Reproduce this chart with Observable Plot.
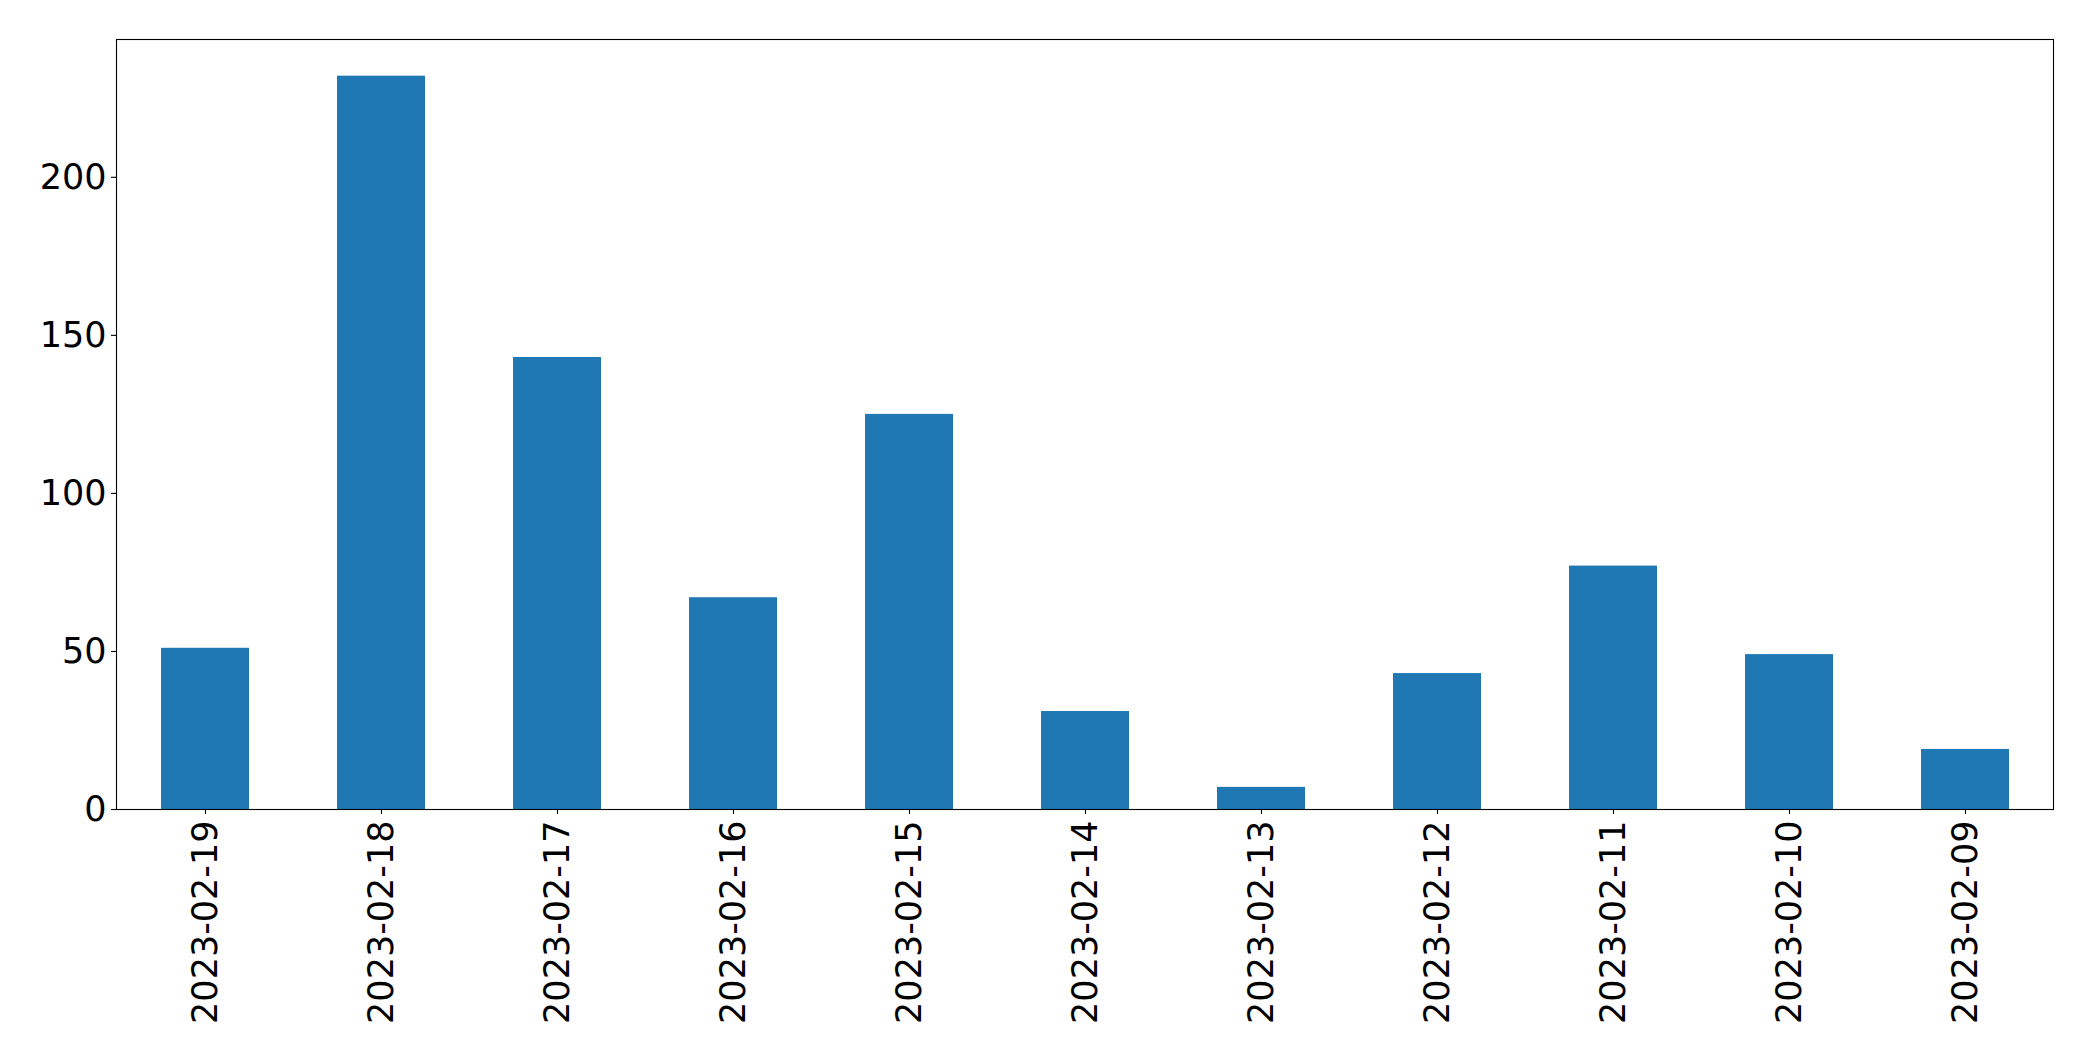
<!DOCTYPE html>
<html>
<head>
<meta charset="utf-8">
<script src="https://cdn.jsdelivr.net/npm/d3@7"></script>
<script src="https://cdn.jsdelivr.net/npm/@observablehq/plot@0.6"></script>
<style>
  html, body { margin: 0; padding: 0; background: #fff; }
  #chart svg { display: block; }
</style>
</head>
<body>
<div id="chart"></div>
<script>
const dates = ["2023-02-19","2023-02-18","2023-02-17","2023-02-16","2023-02-15","2023-02-14","2023-02-13","2023-02-12","2023-02-11","2023-02-10","2023-02-09"];
const counts = [51, 232, 143, 67, 125, 31, 7, 43, 77, 49, 19];
const yTicks = [0, 50, 100, 150, 200];

const data = dates.map((d, i) => ({date: d, count: counts[i]}));
const yMax = d3.max(counts) * 1.05;

const chart = Plot.plot({
  width: 2093,
  height: 1061,
  marginLeft: 116,
  marginRight: 40,
  marginTop: 39,
  marginBottom: 252,
  style: {background: "#fff", color: "#000", fontFamily: "'DejaVu Sans', sans-serif", overflow: "visible"},
  x: {type: "band", domain: dates, paddingInner: 0.5, paddingOuter: 0.25, label: null},
  y: {domain: [0, yMax], label: null},
  marks: [
    Plot.barY(data, {x: "date", y: "count", fill: "#1f77b4"}),
    Plot.frame({stroke: "#000", strokeWidth: 1.1}),
    Plot.axisY({ticks: yTicks, tickSize: 5, tickPadding: 5, fontSize: 35, label: null, strokeWidth: 1.1}),
    Plot.axisX({tickRotate: -90, tickSize: 5, tickPadding: 6, fontSize: 35, label: null, strokeWidth: 1.1})
  ]
});
document.getElementById("chart").appendChild(chart);
</script>
</body>
</html>
